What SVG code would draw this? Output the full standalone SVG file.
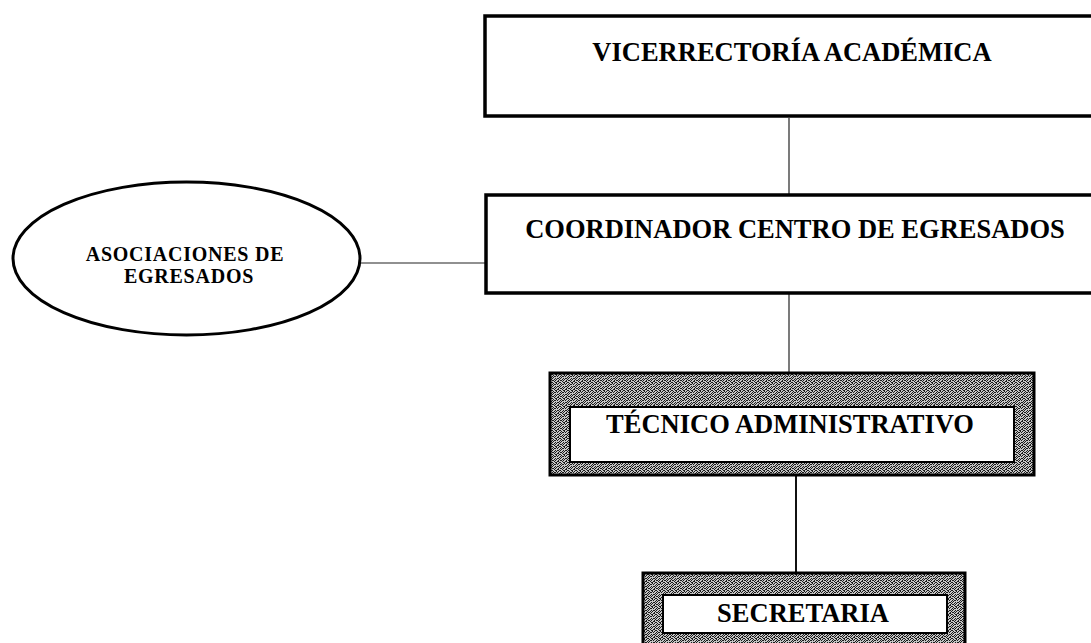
<svg xmlns="http://www.w3.org/2000/svg" width="1091" height="643" viewBox="0 0 1091 643">
  <defs>
    <pattern id="stip" width="8" height="8" patternUnits="userSpaceOnUse">
      <rect width="8" height="8" fill="#c6c6c6"/>
      <path fill="#1a1a1a" d="M0 0h1v1h-1z M2 0h2v1h-2z M5 0h1v1h-1z M7 1h1v1h-1z M1 1h1v1h-1z M3 2h1v1h-1z M0 2h1v1h-1z M5 2h2v1h-2z M2 3h1v1h-1z M4 3h1v1h-1z M7 3h1v1h-1z M0 4h2v1h-2z M3 4h1v1h-1z M6 4h1v1h-1z M2 5h1v1h-1z M5 5h2v1h-2z M0 6h1v1h-1z M3 6h2v1h-2z M7 6h1v1h-1z M1 7h1v1h-1z M4 7h1v1h-1z M6 7h1v1h-1z"/>
    </pattern>
    <style>
      .box { fill: #ffffff; stroke: #000000; stroke-width: 3.5; }
      .frame { fill: url(#stip); stroke: #000000; stroke-width: 3; }
      .inner { fill: #ffffff; stroke: #000000; stroke-width: 2; }
      .oval { fill: #ffffff; stroke: #000000; stroke-width: 3; }
      .conn { stroke: #222222; stroke-width: 1.2; fill: none; }
      .conn2 { stroke: #111111; stroke-width: 2; fill: none; }
      .t { font-family: "Liberation Serif", "Times New Roman", serif; font-weight: bold; fill: #000000; text-anchor: middle; }
      .big { font-size: 26.5px; }
      .small { font-size: 20px; letter-spacing: 0.75px; }
    </style>
  </defs>
  <rect width="1091" height="643" fill="#ffffff"/>

  <g id="connectors">
    <line class="conn" x1="789" y1="118" x2="789" y2="195"/>
    <line class="conn" x1="789" y1="293" x2="789" y2="373"/>
    <line class="conn2" x1="796" y1="475" x2="796" y2="573"/>
    <line class="conn" x1="360" y1="263" x2="486" y2="263"/>
  </g>

  <g id="vicerrectoria">
    <rect class="box" x="485" y="16" width="620" height="100"/>
    <text class="t big" x="792" y="61">VICERRECTORÍA ACADÉMICA</text>
  </g>

  <g id="coordinador">
    <rect class="box" x="486" y="195" width="620" height="98"/>
    <text class="t big" x="795" y="238">COORDINADOR CENTRO DE EGRESADOS</text>
  </g>

  <g id="asociaciones">
    <ellipse class="oval" cx="186.5" cy="258.5" rx="173.5" ry="76.5"/>
    <text class="t small" x="185" y="261">ASOCIACIONES DE</text>
    <text class="t small" x="189" y="283">EGRESADOS</text>
  </g>

  <g id="tecnico">
    <rect class="frame" x="550" y="373" width="484" height="102"/>
    <rect class="inner" x="570" y="407" width="444" height="55"/>
    <text class="t big" x="790" y="433">TÉCNICO ADMINISTRATIVO</text>
  </g>

  <g id="secretaria">
    <rect class="frame" x="643" y="573" width="322" height="74"/>
    <rect class="inner" x="663" y="595" width="284" height="38"/>
    <text class="t big" x="803" y="622">SECRETARIA</text>
  </g>
</svg>
